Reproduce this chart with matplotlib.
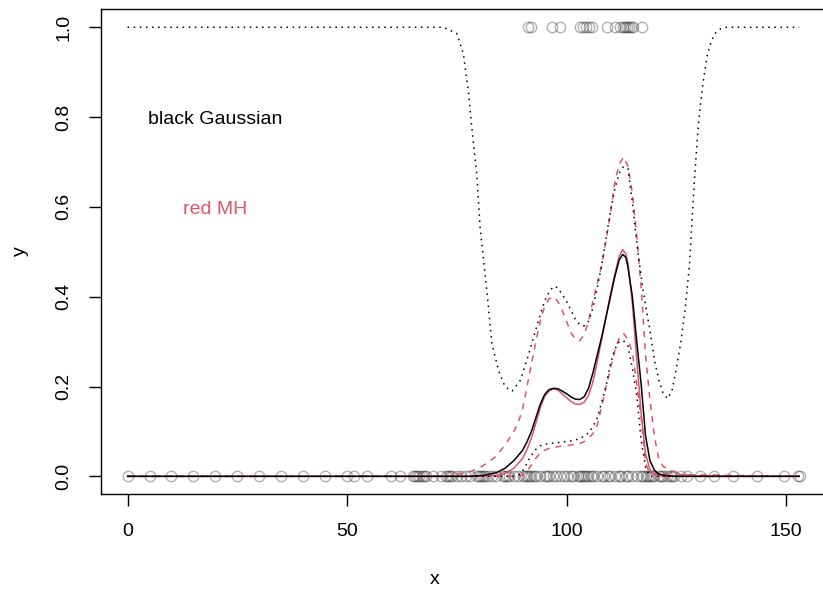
import matplotlib
matplotlib.use("Agg")
import matplotlib.pyplot as plt

plt.rcParams["font.family"] = ["Liberation Sans", "DejaVu Sans"]

# observations with y = 0 and y = 1
x_zero = [0, 5, 10, 15, 20, 25, 30, 35, 40, 45, 50, 51.5, 54.5, 60, 62,
          65, 65.5, 66, 66.5, 67, 67.5, 68, 69.5, 71.5, 72.5, 73, 73.5, 74,
          75, 76, 77, 78, 79.5, 80, 80.5, 81, 81.5, 82, 83, 84, 85.5, 86,
          86.5, 87, 88, 89, 90, 90.5, 91, 91.5, 92, 92.5, 93, 94, 95, 95.5,
          96, 97, 97.5, 98.5, 99.5, 100, 101, 101.5, 102.5, 103, 103.5, 104,
          104.5, 105, 105.5, 106, 107, 108, 108.5, 109.5, 110, 111, 112,
          112.5, 113.5, 114, 115, 116, 117, 117.5, 118, 118.5, 119, 119.5,
          120, 121, 121.5, 122, 123, 123.5, 124, 124.5, 126, 127.5, 130.5,
          133.5, 138, 143.3, 149.5, 152.8, 153.2]
x_one = [91.3, 91.8, 96.7, 98.6, 103.1, 103.8, 104.5, 105.2, 105.9, 109.2,
         111.1, 112.2, 112.9, 113.4, 113.8, 114.3, 114.7, 115.2, 117.2]

# Gaussian fit: mean and band
gauss_x = [0, 78, 81, 84, 86, 88, 90, 91, 92, 93, 94, 95, 96, 97, 98, 99,
           100, 101, 102, 103, 104, 105, 106, 107, 108, 109, 110, 111, 112,
           112.8, 113.5, 114, 115, 116, 117, 118, 119, 120, 121, 123, 125, 153]
gauss_mean = [0, 0, 0.002, 0.008, 0.018, 0.035, 0.058, 0.077, 0.1, 0.13,
              0.16, 0.182, 0.193, 0.196, 0.195, 0.19, 0.184, 0.177, 0.172,
              0.171, 0.177, 0.196, 0.23, 0.27, 0.31, 0.355, 0.4, 0.445, 0.482,
              0.494, 0.488, 0.465, 0.4, 0.3, 0.205, 0.09, 0.035, 0.014, 0.005,
              0.001, 0, 0]

gauss_up_x = [0, 72, 75, 76.5, 77.7, 78.4, 79.6, 80.3, 81.1, 81.9, 83, 84.5,
              86, 87.6, 89.5, 91, 92.5, 94, 95, 96, 97, 98, 99, 100, 101, 102,
              103, 104, 105, 106, 107, 108, 109, 110, 111, 112, 113, 114, 115,
              116, 117, 118, 119, 120, 121, 122, 123, 124, 125, 126, 127, 128,
              129, 130, 131, 132, 133, 134, 135, 136.5, 153]
gauss_upper = [1, 1, 0.986, 0.941, 0.852, 0.778, 0.667, 0.555, 0.481, 0.407,
               0.296, 0.236, 0.199, 0.19, 0.214, 0.26, 0.31, 0.36, 0.39, 0.41,
               0.423, 0.42, 0.405, 0.39, 0.37, 0.35, 0.338, 0.335, 0.345,
               0.375, 0.42, 0.47, 0.53, 0.59, 0.64, 0.675, 0.69, 0.685, 0.61,
               0.52, 0.445, 0.38, 0.325, 0.26, 0.215, 0.185, 0.173, 0.19, 0.24,
               0.296, 0.37, 0.47, 0.64, 0.78, 0.87, 0.935, 0.97, 0.988, 0.996,
               1, 1]

gauss_lo_x = [0, 88, 89.5, 90.5, 91.7, 93, 94, 95, 96, 97, 98, 99, 100, 101,
              102, 103, 104, 105, 106, 107, 108, 109, 110, 111, 112, 113, 114,
              115, 116, 117, 118, 119, 153]
gauss_lower = [0, 0, 0.005, 0.02, 0.043, 0.06, 0.068, 0.071, 0.073, 0.074,
               0.075, 0.076, 0.078, 0.079, 0.081, 0.084, 0.089, 0.097, 0.11,
               0.13, 0.165, 0.2, 0.25, 0.283, 0.3, 0.302, 0.29, 0.24, 0.18,
               0.08, 0.02, 0, 0]

# MH fit: mean and band
mh_x = [0, 80, 84, 86, 88, 90, 91, 92, 93, 94, 95, 96, 97, 98, 99, 100, 101,
        102, 103, 104, 105, 106, 107, 108, 109, 110, 111, 112, 112.8, 113.5,
        114, 115, 116, 117, 118, 119, 120, 122, 153]
mh_mean = [0, 0, 0.002, 0.006, 0.018, 0.04, 0.06, 0.085, 0.118, 0.152, 0.178,
           0.19, 0.195, 0.192, 0.184, 0.175, 0.167, 0.161, 0.16, 0.165, 0.18,
           0.21, 0.255, 0.305, 0.355, 0.405, 0.45, 0.49, 0.505, 0.495, 0.475,
           0.385, 0.26, 0.14, 0.05, 0.015, 0.004, 0, 0]

mh_up_x = [0, 70, 74, 78, 80, 82, 84, 86, 88, 89, 90, 91, 92, 93, 94, 95, 96,
           97, 98, 99, 100, 101, 102, 103, 104, 105, 106, 107, 108, 109, 110,
           111, 112, 113, 114, 115, 116, 117, 118, 119, 120, 121, 122, 124,
           126, 128, 130, 153]
mh_upper = [0, 0, 0.002, 0.01, 0.018, 0.03, 0.045, 0.07, 0.1, 0.12, 0.15,
            0.2, 0.25, 0.3, 0.345, 0.378, 0.395, 0.4, 0.39, 0.37, 0.345, 0.32,
            0.305, 0.302, 0.315, 0.345, 0.39, 0.43, 0.47, 0.525, 0.585, 0.655,
            0.695, 0.711, 0.69, 0.63, 0.533, 0.42, 0.27, 0.17, 0.09, 0.04,
            0.022, 0.012, 0.005, 0.002, 0, 0]

mh_lo_x = [0, 89, 90, 91, 92, 93, 94, 95, 96, 97, 98, 99, 100, 101, 102, 103,
           104, 105, 106, 107, 108, 109, 110, 111, 112, 113, 114, 115, 116,
           117, 118, 119, 153]
mh_lower = [0, 0, 0.003, 0.012, 0.025, 0.04, 0.052, 0.058, 0.062, 0.064,
            0.066, 0.067, 0.068, 0.07, 0.071, 0.073, 0.077, 0.085, 0.095,
            0.115, 0.155, 0.2, 0.24, 0.28, 0.308, 0.318, 0.305, 0.275, 0.206,
            0.13, 0.03, 0.005, 0]

RED = "#DF536B"

fig = plt.figure(figsize=(8.23, 5.89), dpi=100)
ax = fig.add_axes([0.1224, 0.1608, 0.8813, 0.8234])

ax.plot(x_zero, [0] * len(x_zero), "o", ms=7.5, mfc="none", mec="black",
        mew=1.0, alpha=0.3, ls="none")
ax.plot(x_one, [1] * len(x_one), "o", ms=7.5, mfc="none", mec="black",
        mew=1.0, alpha=0.3, ls="none")

# MH first, Gaussian on top
ax.plot(mh_x, mh_mean, color=RED, lw=1.1)
ax.plot(mh_up_x, mh_upper, color=RED, lw=1.1, ls=(0, (4, 4)))
ax.plot(mh_lo_x, mh_lower, color=RED, lw=1.1, ls=(0, (4, 4)))
ax.plot(gauss_x, gauss_mean, color="black", lw=1.1)
ax.plot(gauss_up_x, gauss_upper, color="black", lw=1.1, ls=(0, (1, 3)))
ax.plot(gauss_lo_x, gauss_lower, color="black", lw=1.1, ls=(0, (1, 3)))

ax.text(20, 0.795, "black Gaussian", ha="center", va="center", fontsize=14)
ax.text(20, 0.595, "red MH", ha="center", va="center", fontsize=14, color=RED)

ax.set_xlim(-6.12, 159.12)
ax.set_ylim(-0.04, 1.04)
ax.set_xticks([0, 50, 100, 150])
ax.set_yticks([0, 0.2, 0.4, 0.6, 0.8, 1.0])
ax.set_yticklabels(["0.0", "0.2", "0.4", "0.6", "0.8", "1.0"],
                   rotation=90, va="center")
ax.tick_params(length=8.5, width=1, labelsize=14, color="black")
ax.tick_params(axis="x", pad=12)
ax.tick_params(axis="y", pad=12)
for s in ax.spines.values():
    s.set_linewidth(1)

fig.text(435 / 823, 1 - 584 / 589, "x", ha="center", va="baseline",
         fontsize=14)
fig.text(20 / 823, 1 - 251 / 589, "y", ha="center", va="center",
         fontsize=14, rotation=90)

fig.savefig("out.png", dpi=100)
